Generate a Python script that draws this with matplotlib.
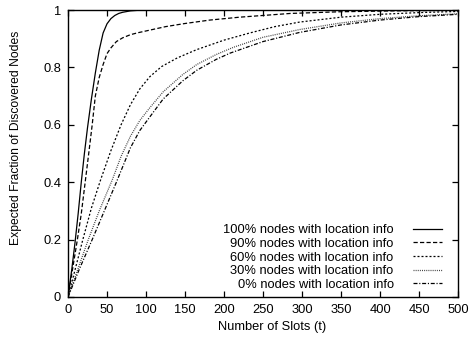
import numpy as np
import matplotlib
matplotlib.use('Agg')
import matplotlib.pyplot as plt

plt.rcParams['font.family'] = ['Liberation Sans', 'DejaVu Sans']
plt.rcParams['font.size'] = 9.3

# curves (slots, expected fraction discovered)
x100 = [0, 5, 9, 13, 17, 21, 25, 30, 35, 40, 45, 50, 55, 60, 65, 70, 80, 90, 100, 500]
y100 = [0, 0.10, 0.19, 0.29, 0.40, 0.50, 0.59, 0.69, 0.78, 0.86, 0.92, 0.952, 0.97,
        0.981, 0.988, 0.992, 0.997, 0.999, 1.0, 1.0]

x90 = [0, 6, 12, 17, 22, 27, 31, 35, 40, 45, 50, 55, 62, 70, 80, 90, 105, 125, 150,
       182, 220, 285, 350, 420, 500]
y90 = [0, 0.10, 0.20, 0.29, 0.40, 0.51, 0.60, 0.70, 0.765, 0.81, 0.848, 0.868, 0.89,
       0.903, 0.914, 0.921, 0.93, 0.942, 0.953, 0.965, 0.975, 0.988, 0.994, 0.997, 0.999]

x60 = [0, 10, 19, 30, 42, 55, 68, 80, 92, 105, 120, 140, 165, 200, 233, 265, 297,
       350, 400, 450, 500]
y60 = [0, 0.105, 0.20, 0.31, 0.41, 0.51, 0.60, 0.67, 0.725, 0.768, 0.803, 0.833, 0.862,
       0.895, 0.92, 0.942, 0.958, 0.975, 0.985, 0.991, 0.995]

x30 = [0, 13, 26, 40, 57, 68, 80, 92, 105, 122, 147, 165, 190, 212, 250, 297, 350,
       400, 450, 500]
y30 = [0, 0.10, 0.20, 0.30, 0.41, 0.49, 0.56, 0.615, 0.66, 0.715, 0.775, 0.81, 0.845,
       0.87, 0.905, 0.932, 0.955, 0.97, 0.98, 0.987]

x0 = [0, 15, 31, 45, 62, 80, 92, 105, 122, 147, 165, 190, 208, 250, 297, 350, 400,
      450, 500]
y0 = [0, 0.10, 0.20, 0.29, 0.40, 0.52, 0.58, 0.628, 0.69, 0.753, 0.79, 0.828, 0.85,
      0.89, 0.922, 0.948, 0.965, 0.977, 0.985]

labels = ['100% nodes with location info', '90% nodes with location info',
          '60% nodes with location info', '30% nodes with location info',
          '0% nodes with location info']

fig = plt.figure(figsize=(4.70, 3.39), dpi=100)
ax = fig.add_axes([0.1447, 0.1239, 0.83, 0.8466])

lw = 0.9
ax.plot(x100, y100, color='black', lw=lw, label=labels[0])
ax.plot(x90, y90, color='black', lw=lw, dashes=(3.4, 1.8), label=labels[1])
ax.plot(x60, y60, color='black', lw=lw, dashes=(1.6, 1.6), label=labels[2])
ax.plot(x30, y30, color='#444444', lw=lw, dashes=(0.8, 0.9), label=labels[3])
ax.plot(x0, y0, color='black', lw=lw, dashes=(3.2, 1.4, 0.9, 1.4), label=labels[4])

ax.set_xlim(0, 500)
ax.set_ylim(0, 1)
ax.set_xticks(np.arange(0, 501, 50))
ax.set_yticks([0, 0.2, 0.4, 0.6, 0.8, 1.0])
ax.set_yticklabels(['0', '0.2', '0.4', '0.6', '0.8', '1'])
ax.tick_params(direction='in', length=4.5, width=0.9, top=True, right=True, pad=5)
for s in ax.spines.values():
    s.set_linewidth(1.0)

ax.set_xlabel('Number of Slots (t)')
ax.set_ylabel('Expected Fraction of Discovered Nodes', fontsize=8.7)
ax.xaxis.set_label_coords(0.523, -0.085)
ax.yaxis.set_label_coords(-0.117, 0.554)

# markerfirst=False right-aligns the rows, like the gnuplot key
leg = ax.legend(loc='lower right', frameon=False, markerfirst=False,
                handlelength=2.25, handletextpad=1.5, labelspacing=0.12,
                borderaxespad=0, borderpad=0, bbox_to_anchor=(0.959, 0.022))

plt.savefig('out.png', dpi=100)
plt.close()
